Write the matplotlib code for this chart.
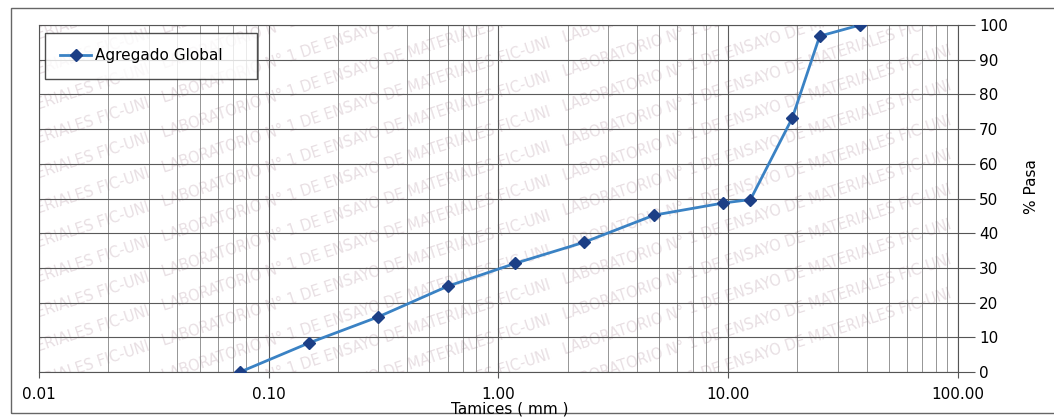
import numpy as np
import matplotlib
matplotlib.use("Agg")
import matplotlib.pyplot as plt
from matplotlib.ticker import FixedLocator, FuncFormatter, LogLocator, NullFormatter
from matplotlib.patches import Rectangle

# tamices (mm) y % que pasa
tamiz = [0.075, 0.15, 0.30, 0.60, 1.18, 2.36, 4.75, 9.5, 12.5, 19.0, 25.0, 37.5]
pasa = [0.0, 8.4, 15.9, 24.7, 31.3, 37.4, 45.2, 48.7, 49.7, 73.2, 96.8, 100.0]
xticks = [0.01, 0.1, 1, 10, 100]
yticks = list(range(0, 101, 10))
serie = "Agregado Global"
marca = "LABORATORIO N° 1 DE ENSAYO DE MATERIALES FIC-UNI"

plt.rcParams['font.family'] = ['DejaVu Sans']

fig = plt.figure(figsize=(10.54, 4.17), dpi=100)
ax = fig.add_axes([0.0370, 0.1079, 0.8719, 0.8321])

ax.plot(tamiz, pasa, color="#3a82c4", lw=2, marker="D", ms=6,
        mfc="#1c3f86", mec="#1c3f86", label=serie, zorder=3)

ax.set_xscale("log")
ax.set_xlim(0.01, 100)
ax.set_ylim(0, 100)
ax.xaxis.set_major_locator(FixedLocator(xticks))
ax.xaxis.set_major_formatter(FuncFormatter(lambda v, p: "%.2f" % v))
ax.xaxis.set_minor_locator(LogLocator(base=10, subs=np.arange(2, 10)))
ax.xaxis.set_minor_formatter(NullFormatter())
ax.set_yticks(yticks)
ax.yaxis.tick_right()

ax.grid(which="major", axis="both", color="#5a5a5a", lw=0.8)
ax.grid(which="minor", axis="x", color="#858585", lw=0.6)
ax.tick_params(axis="x", which="major", length=4, pad=7, labelsize=11, color="#555")
ax.tick_params(axis="x", which="minor", length=0)
ax.tick_params(axis="y", which="major", length=12, pad=3, labelsize=11, color="#555")
for s in ax.spines.values():
    s.set_color("#555")
    s.set_linewidth(0.8)

leg = ax.legend(loc="upper left", bbox_to_anchor=(0.0065, 0.816, 0.231, 0.161),
                mode="expand", fontsize=11, fancybox=False, edgecolor="#222",
                borderpad=1.0, handlelength=2.0, handletextpad=0.3,
                borderaxespad=0)
leg.get_frame().set_linewidth(1.0)

fig.text(510 / 1054, 1 - 409 / 417, "Tamices ( mm )", ha="center", va="center", fontsize=11)
fig.text(1032 / 1054, 1 - 187 / 417, "% Pasa", ha="center", va="center",
         rotation=90, fontsize=11)

# marco exterior del grafico
fig.patches.append(Rectangle((11 / 1054, 4 / 417), 1.2, 405 / 417, transform=fig.transFigure,
                             fill=False, ec="#666", lw=1.0))

# sello de agua del laboratorio (recortado al area del grafico)
linea = (marca + "   ") * 4
for i in range(-14, 10):
    t = ax.text(-0.3, 0.5 + i * 0.1, linea, transform=ax.transAxes, rotation=18,
                rotation_mode="anchor", fontsize=10.5, color="#e8dfe3", zorder=1)
    t.set_clip_on(True)

fig.savefig("out.png", dpi=100)
